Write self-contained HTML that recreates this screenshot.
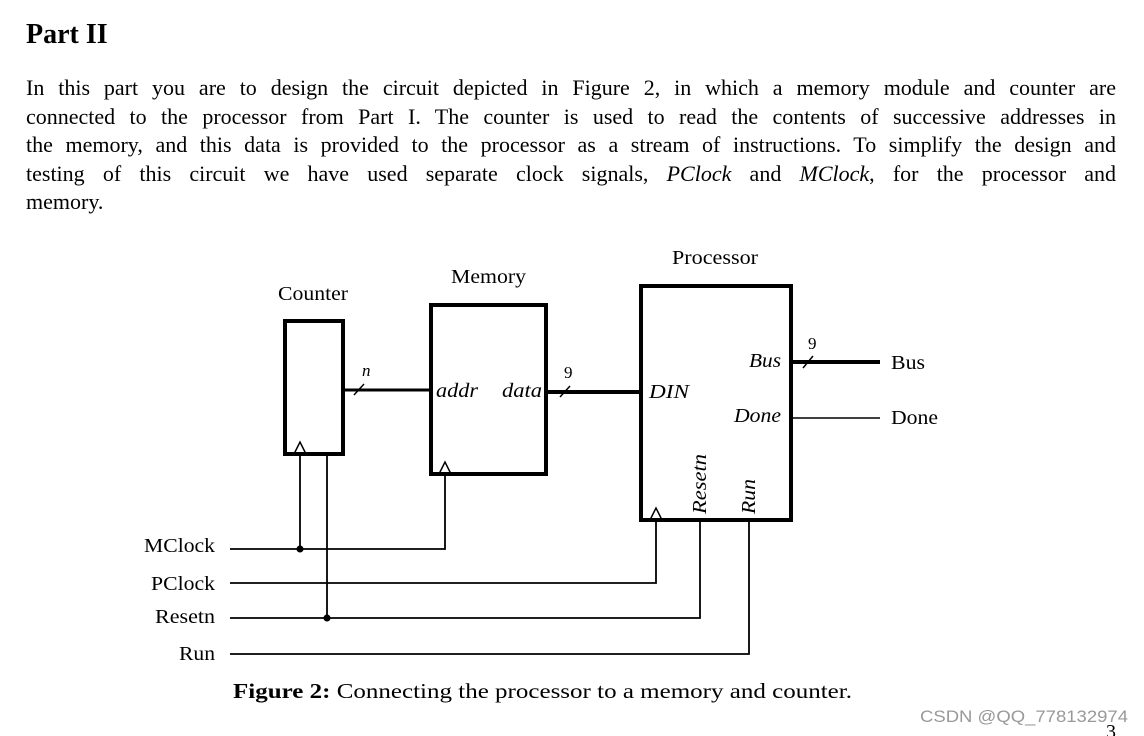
<!DOCTYPE html>
<html><head><meta charset="utf-8"><style>
body{margin:0;width:1144px;height:736px;background:#fff;position:relative;overflow:hidden;font-family:"Liberation Serif",serif;color:#000}
h1{position:absolute;left:26px;top:19px;margin:0;font-size:28px;font-weight:bold}
.p{position:absolute;left:26px;top:74px;width:1090px;font-size:22px;line-height:28.6px}
.p div{text-align:justify;text-align-last:justify;white-space:nowrap;overflow:visible}
.p div.l{text-align-last:left}
svg{position:absolute;left:0;top:0}
</style></head><body>
<h1>Part II</h1>
<div class="p">
<div>In this part you are to design the circuit depicted in Figure 2, in which a memory module and counter are</div>
<div>connected to the processor from Part I. The counter is used to read the contents of successive addresses in</div>
<div>the memory, and this data is provided to the processor as a stream of instructions. To simplify the design and</div>
<div>testing of this circuit we have used separate clock signals, <i>PClock</i> and <i>MClock</i>, for the processor and</div>
<div class="l">memory.</div>
</div>
<svg width="1144" height="736" font-family="Liberation Serif, serif">
<g fill="none" stroke="#000">
<rect x="285" y="321" width="58" height="133" stroke-width="4"/>
<rect x="431" y="305" width="115" height="169" stroke-width="4"/>
<rect x="641" y="286" width="150" height="234" stroke-width="4"/>
<path d="M294 454 L300 442 L306 454 M439 474 L445 462 L451 474 M650 520 L656 508 L662 520" stroke-width="1.5"/>
<line x1="343" y1="390" x2="431" y2="390" stroke-width="3"/>
<line x1="546" y1="392" x2="641" y2="392" stroke-width="4"/>
<line x1="791" y1="362" x2="880" y2="362" stroke-width="4"/>
<line x1="791" y1="418" x2="880" y2="418" stroke-width="1.5"/>
<path d="M354 395 L364 384 M560 397 L570 386 M803 368 L813 356" stroke-width="1.5"/>
<g stroke-width="1.8">
<path d="M300 454 V549 M327 454 V618 M230 549 H445 V474 M230 583 H656 V520 M230 618 H700 V520 M230 654 H749 V520"/>
</g>
</g>
<circle cx="300" cy="549" r="3.5"/><circle cx="327" cy="618" r="3.5"/>
<g font-size="20">
<text x="278" y="300" textLength="70" lengthAdjust="spacingAndGlyphs">Counter</text>
<text x="451" y="283" textLength="75" lengthAdjust="spacingAndGlyphs">Memory</text>
<text x="672" y="264" textLength="86" lengthAdjust="spacingAndGlyphs">Processor</text>
<text x="891" y="369" textLength="34" lengthAdjust="spacingAndGlyphs">Bus</text>
<text x="891" y="424" textLength="47" lengthAdjust="spacingAndGlyphs">Done</text>
<text x="144" y="552" textLength="71" lengthAdjust="spacingAndGlyphs">MClock</text>
<text x="151" y="590" textLength="64" lengthAdjust="spacingAndGlyphs">PClock</text>
<text x="155" y="623" textLength="60" lengthAdjust="spacingAndGlyphs">Resetn</text>
<text x="179" y="660" textLength="36" lengthAdjust="spacingAndGlyphs">Run</text>
<text x="564" y="378" font-size="17">9</text>
<text x="808" y="349" font-size="17">9</text>
</g>
<g font-size="20" font-style="italic">
<text x="362" y="376" font-size="17">n</text>
<text x="436" y="397" textLength="42" lengthAdjust="spacingAndGlyphs">addr</text>
<text x="502" y="397" textLength="40" lengthAdjust="spacingAndGlyphs">data</text>
<text x="649" y="398" textLength="40" lengthAdjust="spacingAndGlyphs">DIN</text>
<text x="749" y="367" textLength="32" lengthAdjust="spacingAndGlyphs">Bus</text>
<text x="734" y="422" textLength="47" lengthAdjust="spacingAndGlyphs">Done</text>
<text transform="translate(706,514) rotate(-90)" textLength="60" lengthAdjust="spacingAndGlyphs">Resetn</text>
<text transform="translate(755,514) rotate(-90)" textLength="35" lengthAdjust="spacingAndGlyphs">Run</text>
</g>
<text x="233" y="698" font-size="21.5" textLength="619" lengthAdjust="spacingAndGlyphs"><tspan font-weight="bold">Figure 2:</tspan> Connecting the processor to a memory and counter.</text>
<text x="1106" y="738" font-size="20">3</text>
<text x="920" y="722" font-size="17" fill="#999" font-family="Liberation Sans, sans-serif" textLength="208" lengthAdjust="spacingAndGlyphs">CSDN @QQ_778132974</text>
</svg>
</body></html>
